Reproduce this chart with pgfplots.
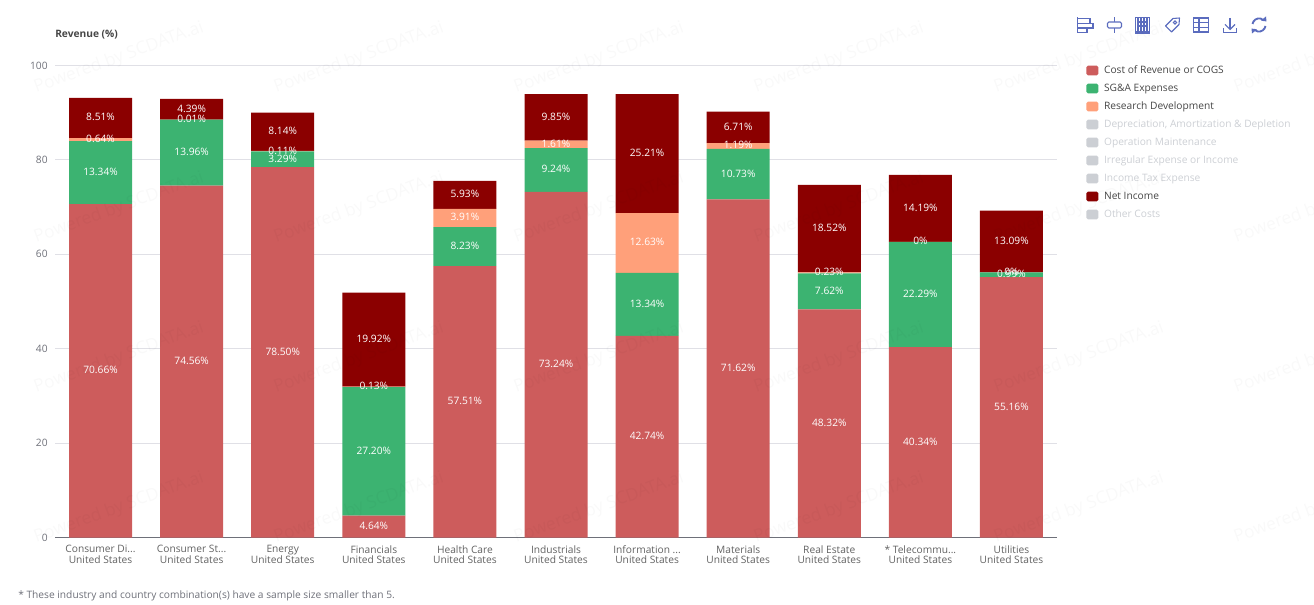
\documentclass[border=0pt]{standalone}
\usepackage{fontspec}
\setmainfont{Open Sans}
\usepackage{pgfplots}
\usepackage{pgfplotstable}
\pgfplotsset{compat=1.18}

\definecolor{cogs}{RGB}{205,92,92}
\definecolor{sga}{RGB}{60,179,113}
\definecolor{rnd}{RGB}{255,160,122}
\definecolor{netinc}{RGB}{139,0,0}
\definecolor{off}{RGB}{204,207,212}
\definecolor{gridc}{RGB}{224,224,230}
\definecolor{axisc}{RGB}{110,112,121}
\definecolor{txt}{RGB}{70,70,70}
\definecolor{icon}{RGB}{91,108,190}

% 1 px of the reference = 0.75pt
\newcommand{\pxfont}[1]{\fontsize{#1}{#1}\selectfont}
\newcommand{\dd}{.{}.{}.}

% rnd 0 is kept as 0.001 so that its 0% label is still drawn; rndl holds the printed text
\pgfplotstableread{
x cogs sga rnd rndl net
0 70.66 13.34 0.64 0.64 8.51
1 74.56 13.96 0.01 0.01 4.39
2 78.50 3.29 0.11 0.11 8.14
3 4.64 27.20 0.13 0.13 19.92
4 57.51 8.23 3.91 3.91 5.93
5 73.24 9.24 1.61 1.61 9.85
6 42.74 13.34 12.63 12.63 25.21
7 71.62 10.73 1.19 1.19 6.71
8 48.32 7.62 0.23 0.23 18.52
9 40.34 22.29 0.001 0 14.19
10 55.16 0.99 0.001 0 13.09
}\rev

\begin{document}
\begin{tikzpicture}
\path[use as bounding box] (0,0) rectangle (985.5pt,453.75pt);
\clip (0,0) rectangle (985.5pt,453.75pt);

\begin{axis}[
  at={(41.25pt,50.6pt)}, anchor=south west,
  scale only axis,
  width=751.5pt, height=354pt,
  ybar stacked,
  bar width=47.25pt,
  xmin=-0.5, xmax=10.5,
  ymin=0, ymax=100,
  axis x line*=bottom,
  axis y line*=left,
  x axis line style={color=axisc, line width=0.75pt, -},
  y axis line style={draw=none},
  major tick length=0pt,
  xtick=data,
  xticklabels={
    Consumer Di\dd\\United States,
    Consumer St\dd\\United States,
    Energy\\United States,
    Financials\\United States,
    Health Care\\United States,
    Industrials\\United States,
    Information \dd\\United States,
    Materials\\United States,
    Real Estate\\United States,
    * Telecommu\dd\\United States,
    Utilities\\United States},
  x tick label style={align=center, font=\fontsize{7.65pt}{7.9pt}\selectfont, text=txt!85, yshift=-2.3pt},
  ytick={0,20,40,60,80,100},
  y tick label style={font=\pxfont{7.65pt}, text=axisc, xshift=-2pt},
  yticklabel style={/pgf/number format/assume math mode=true},
  ymajorgrids,
  y grid style={color=gridc, line width=0.75pt},
  point meta=explicit symbolic,
  nodes near coords={\pgfplotspointmeta\%},
  every node near coord/.style={anchor=center, yshift=0.5pt, text=white, font=\pxfont{7.65pt}, inner sep=0pt},
  legend cell align=left,
  legend image code/.code={\fill[#1, rounded corners=1.2pt] (0pt,-3.6pt) rectangle (9pt,3.6pt);},
  legend style={
    at={(1.029,1.0021)}, anchor=north west,
    draw=none, fill=none, inner sep=0pt,
    font=\pxfont{7.65pt},
    row sep=5pt,
    nodes={inner sep=0pt, inner xsep=4.3pt, text height=6.5pt, text depth=2pt},
  },
]
\addplot[fill=cogs, draw=none] table[x=x, y=cogs, meta=cogs] {\rev};
\addlegendentry{\textcolor{txt}{Cost of Revenue or COGS}}
\addplot[fill=sga, draw=none] table[x=x, y=sga, meta=sga] {\rev};
\addlegendentry{\textcolor{txt}{SG\&A Expenses}}
\addplot[fill=rnd, draw=none] table[x=x, y=rnd, meta=rndl] {\rev};
\addlegendentry{\textcolor{txt}{Research Development}}
\addlegendimage{fill=off, draw=none}
\addlegendentry{\textcolor{off}{Depreciation, Amortization \& Depletion}}
\addlegendimage{fill=off, draw=none}
\addlegendentry{\textcolor{off}{Operation Maintenance}}
\addlegendimage{fill=off, draw=none}
\addlegendentry{\textcolor{off}{Irregular Expense or Income}}
\addlegendimage{fill=off, draw=none}
\addlegendentry{\textcolor{off}{Income Tax Expense}}
\addplot[fill=netinc, draw=none] table[x=x, y=net, meta=net] {\rev};
\addlegendentry{\textcolor{txt}{Net Income}}
\addlegendimage{fill=off, draw=none}
\addlegendentry{\textcolor{off}{Other Costs}}
\end{axis}

% everything below is placed in reference pixels, y downwards
\begin{scope}[shift={(0pt,453.75pt)}, x=0.75pt, y=-0.75pt]
\node[anchor=west, inner sep=0pt, text=txt, font=\pxfont{7.65pt}\bfseries] at (55,35) {Revenue (\%)};
\node[anchor=west, inner sep=0pt, text=axisc, font=\pxfont{7.65pt}] at (18,596) {* These industry and country combination(s) have a sample size smaller than 5.};

% toolbox icons
\begin{scope}[draw=icon, line width=0.8pt]
\draw (1077.5,17.5) -- (1077.5,33);
\draw (1077.5,18.5) rectangle (1090,23.5);
\draw (1077.5,23.5) rectangle (1093,28);
\draw (1077.5,28) rectangle (1087,32.5);
\draw (1114.5,17.5) -- (1114.5,33);
\draw[fill=white, rounded corners=1pt] (1107.5,22) rectangle (1121.5,28);
\draw (1135,33) -- (1150,33);
\draw (1135.5,17.5) rectangle (1149.5,32);
\foreach \xx in {1138,1141,1144,1147} \draw (\xx,17.5) -- (\xx,32);
\draw (1138,22) -- (1147,22) (1138,26) -- (1147,26);
\draw[line join=round] (1165.5,26) -- (1173,18.5) -- (1179.5,18) -- (1179,24.5) -- (1171.5,32) -- cycle;
\draw (1175,22.5) circle (1.6);
\draw (1193.5,18) rectangle (1208.5,32);
\draw (1193.5,22.7) -- (1208.5,22.7) (1193.5,27.3) -- (1208.5,27.3) (1199,18) -- (1199,32);
\draw (1230,18) -- (1230,29);
\draw (1225,24.5) -- (1230,29.5) -- (1235,24.5);
\draw (1223.5,28.5) -- (1223.5,32.5) -- (1236.5,32.5) -- (1236.5,28.5);
\draw[line width=1.4pt] (1252.5,24) arc[start angle=190, end angle=315, radius=6.8];
\draw[line width=1.4pt] (1265.5,26) arc[start angle=10, end angle=135, radius=6.8];
\fill[icon] (1266.5,21.5) -- (1266,16.5) -- (1261,20.5) -- cycle;
\fill[icon] (1251.5,28.5) -- (1252,33.5) -- (1257,29.5) -- cycle;
\end{scope}

% watermark, laid over the chart
\foreach \wy in {93,243,393,543}
  \foreach \wx in {36,276,516,756,996,1236}
    \node[anchor=base west, inner sep=0pt, rotate=20, text=black, text opacity=0.025, font=\pxfont{13pt}] at (\wx,\wy) {Powered by SCDATA.ai};
\end{scope}
\end{tikzpicture}
\end{document}
